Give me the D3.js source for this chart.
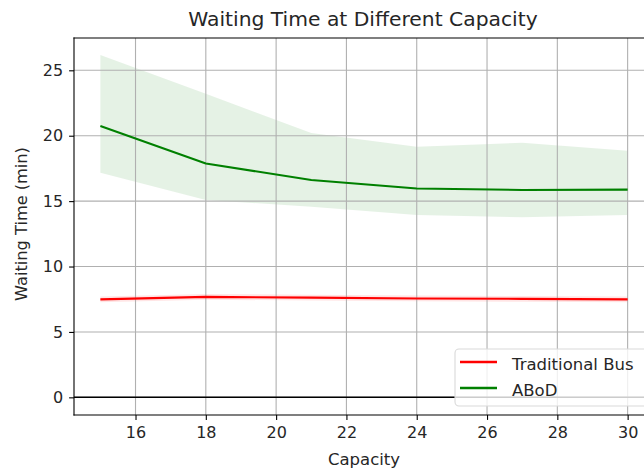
<!DOCTYPE html>
<html>
<head>
<meta charset="utf-8">
<script src="https://cdn.jsdelivr.net/npm/d3@7"></script>
<style>
  html, body { margin: 0; padding: 0; background: #fff; }
  svg { display: block; font-family: "DejaVu Sans", sans-serif; }
</style>
</head>
<body>
<svg id="chart" width="644" height="472"></svg>
<script>
// ---- data ----
const capacity = [15, 18, 21, 24, 27, 30];
const busMean  = [7.49, 7.68, 7.62, 7.56, 7.53, 7.49];
const busLow   = [7.27, 7.46, 7.40, 7.34, 7.31, 7.27];
const busHigh  = [7.71, 7.90, 7.84, 7.78, 7.75, 7.71];
const abodMean = [20.74, 17.87, 16.62, 15.97, 15.85, 15.88];
const abodLow  = [17.17, 15.09, 14.57, 13.94, 13.76, 13.94];
const abodHigh = [26.17, 23.2, 20.2, 19.15, 19.46, 18.85];
const xTicks = [16, 18, 20, 22, 24, 26, 28, 30];
const yTicks = [0, 5, 10, 15, 20, 25];
const seriesNames = ["Traditional Bus", "ABoD"];
const title = "Waiting Time at Different Capacity";
const xLabel = "Capacity";
const yLabel = "Waiting Time (min)";

// ---- layout ----
const L = 74, R = 654, T = 38, B = 415;
const svg = d3.select("#chart");
const x = d3.scaleLinear().domain([14.25, 30.75]).range([L, R]);
const y = d3.scaleLinear().domain([-1.35, 27.47]).range([B, T]);

const bus = capacity.map((c, i) => ({c, m: busMean[i], lo: busLow[i], hi: busHigh[i]}));
const abod = capacity.map((c, i) => ({c, m: abodMean[i], lo: abodLow[i], hi: abodHigh[i]}));

const area = d3.area().x(d => x(d.c)).y0(d => y(d.lo)).y1(d => y(d.hi));
const line = d3.line().x(d => x(d.c)).y(d => y(d.m));

// fills (below grid)
svg.append("path").datum(abod).attr("d", area).attr("fill", "green").attr("fill-opacity", 0.1);
svg.append("path").datum(bus).attr("d", area).attr("fill", "red").attr("fill-opacity", 0.1);

// grid
const grid = svg.append("g").attr("stroke", "#b0b0b0").attr("stroke-width", 1.1);
xTicks.forEach(t => grid.append("line").attr("x1", x(t)).attr("x2", x(t)).attr("y1", T).attr("y2", B));
yTicks.forEach(t => grid.append("line").attr("x1", L).attr("x2", R).attr("y1", y(t)).attr("y2", y(t)));

// axhline at 0
svg.append("line").attr("x1", L).attr("x2", R).attr("y1", y(0)).attr("y2", y(0))
  .attr("stroke", "black").attr("stroke-width", 1.5);

// lines
svg.append("path").datum(bus).attr("d", line).attr("fill", "none")
  .attr("stroke", "red").attr("stroke-width", 2.1).attr("stroke-linejoin", "round").attr("stroke-linecap", "butt");
svg.append("path").datum(abod).attr("d", line).attr("fill", "none")
  .attr("stroke", "green").attr("stroke-width", 2.1).attr("stroke-linejoin", "round").attr("stroke-linecap", "butt");

// axes
const xAxis = d3.axisBottom(x).tickValues(xTicks).tickSize(4.9).tickPadding(6).tickFormat(d3.format("d"));
const yAxis = d3.axisLeft(y).tickValues(yTicks).tickSize(4.9).tickPadding(6).tickFormat(d3.format("d"));
const gx = svg.append("g").attr("transform", `translate(0,${B})`).call(xAxis);
const gy = svg.append("g").attr("transform", `translate(${L},0)`).call(yAxis);
[gx, gy].forEach(g => {
  g.select(".domain").remove();
  g.selectAll(".tick line").attr("stroke", "black").attr("stroke-width", 1.1);
  g.selectAll(".tick text").attr("fill", "#262626").style("font-size", "16px").style("font-family", "DejaVu Sans");
});
gx.selectAll(".tick text").attr("dy", "0.75em");

// spines
const sp = svg.append("g").attr("stroke", "black").attr("stroke-width", 1.1).attr("stroke-linecap", "square");
sp.append("line").attr("x1", L).attr("x2", L).attr("y1", T).attr("y2", B);
sp.append("line").attr("x1", L).attr("x2", R).attr("y1", B).attr("y2", B);
sp.append("line").attr("x1", L).attr("x2", R).attr("y1", T).attr("y2", T);
sp.append("line").attr("x1", R).attr("x2", R).attr("y1", T).attr("y2", B);

// labels
svg.append("text").attr("x", 363).attr("y", 26).attr("text-anchor", "middle")
  .style("font-size", "20.3px").attr("fill", "#262626").text(title);
svg.append("text").attr("x", 364).attr("y", 465).attr("text-anchor", "middle")
  .style("font-size", "16.5px").attr("fill", "#262626").text(xLabel);
svg.append("text").attr("transform", "translate(27,224) rotate(-90)").attr("text-anchor", "middle")
  .style("font-size", "16.2px").attr("fill", "#262626").text(yLabel);

// legend
const lg = svg.append("g");
lg.append("rect").attr("x", 455).attr("y", 349).attr("width", 230).attr("height", 57).attr("rx", 4)
  .attr("fill", "white").attr("fill-opacity", 0.8).attr("stroke", "#d9d9d9").attr("stroke-width", 1.1);
const colors = ["red", "green"];
seriesNames.forEach((n, i) => {
  const yy = 362 + i * 26;
  lg.append("line").attr("x1", 460).attr("x2", 497).attr("y1", yy).attr("y2", yy)
    .attr("stroke", colors[i]).attr("stroke-width", 2.4);
  lg.append("text").attr("x", 512).attr("y", yy + 8).style("font-size", "16.5px")
    .attr("fill", "#262626").text(n);
});
</script>
</body>
</html>
